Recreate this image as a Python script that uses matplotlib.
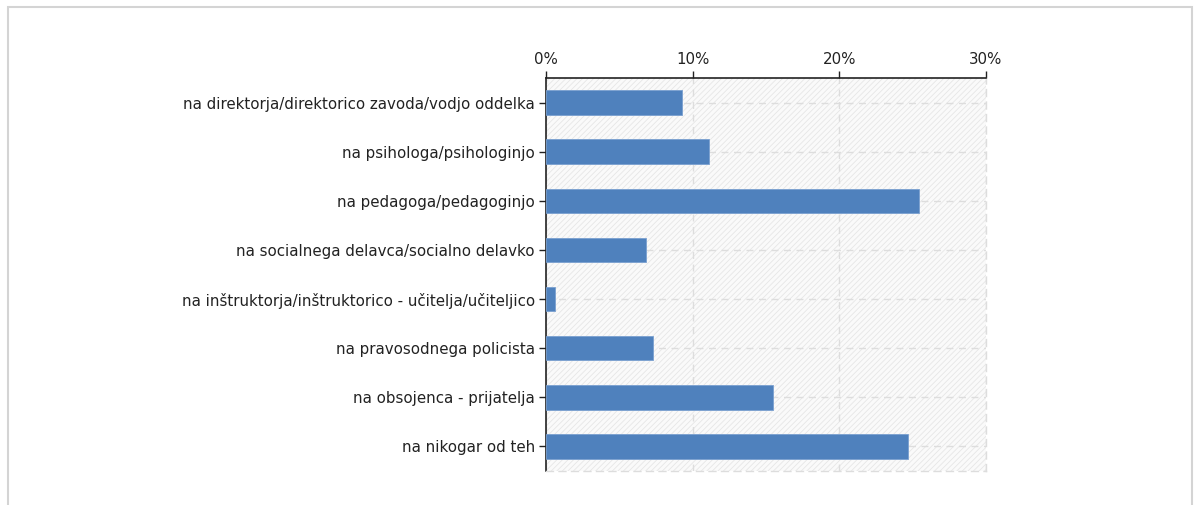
import matplotlib.pyplot as plt
from matplotlib.patches import Rectangle

labels = [
    'na direktorja/direktorico zavoda/vodjo oddelka',
    'na psihologa/psihologinjo',
    'na pedagoga/pedagoginjo',
    'na socialnega delavca/socialno delavko',
    'na inštruktorja/inštruktorico - učitelja/učiteljico',
    'na pravosodnega policista',
    'na obsojenca - prijatelja',
    'na nikogar od teh',
]
values = [9.3, 11.1, 25.4, 6.8, 0.6, 7.3, 15.5, 24.7]
ticks = [0, 10, 20, 30]

plt.rcParams['hatch.linewidth'] = 0.6
plt.rcParams['hatch.color'] = '#e6e6e6'

fig = plt.figure(figsize=(12, 5.05), dpi=100)
ax = fig.add_axes([546 / 1200, 1 - 471 / 505, 440 / 1200, 393 / 505])

# grey frame round the whole figure
fig.patches.append(Rectangle((8 / 1200, -0.05), 1184 / 1200, 1 - 7 / 505 + 0.05,
                             transform=fig.transFigure, fill=False,
                             edgecolor='#d4d4d4', linewidth=1.5))

ax.set_facecolor('#fafafa')
ax.add_patch(Rectangle((0, 0), 1, 1, transform=ax.transAxes, facecolor='none',
                       hatch='//////', edgecolor='#e6e6e6', linewidth=0, zorder=0))

y = list(range(len(labels)))
ax.barh(y, values, height=0.5, color='#4f81bd', edgecolor='#7aa0d0',
        linewidth=0.6, zorder=3)

ax.set_xlim(0, 30)
ax.set_ylim(len(labels) - 0.5, -0.5)
ax.set_yticks(y)
ax.set_yticklabels(labels, fontsize=10.8, color='#222222')
ax.set_xticks(ticks)
ax.set_xticklabels([f'{t}%' for t in ticks], fontsize=10.8, color='#222222')
ax.xaxis.tick_top()
ax.tick_params(axis='x', length=5, width=1, color='#222222', pad=3)
ax.tick_params(axis='y', length=5, width=1, color='#222222', pad=3)

ax.grid(True, color='#dddddd', linestyle=(0, (5, 4)), linewidth=1, zorder=1)
ax.set_axisbelow(True)

ax.spines['top'].set_color('#222222')
ax.spines['top'].set_linewidth(1.2)
ax.spines['left'].set_color('#222222')
ax.spines['left'].set_linewidth(1.2)
for s in ['right', 'bottom']:
    ax.spines[s].set_color('#dddddd')
    ax.spines[s].set_linestyle((0, (5, 4)))
    ax.spines[s].set_linewidth(1)

fig.savefig('out.png', dpi=100)
